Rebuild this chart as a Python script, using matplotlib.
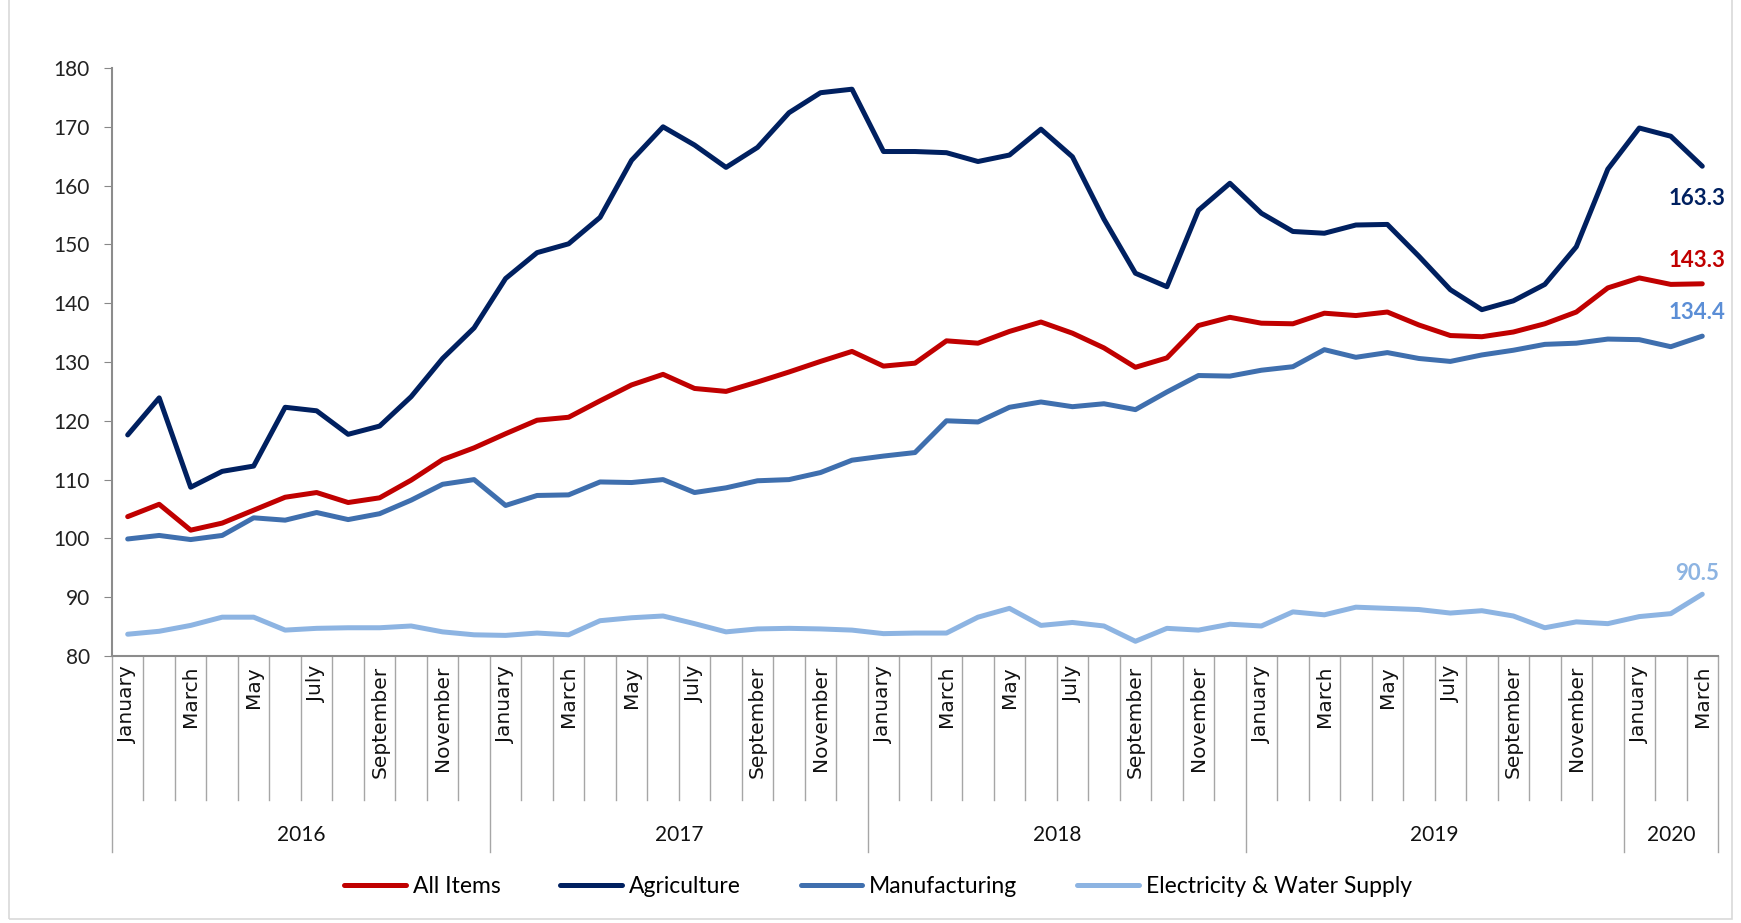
import numpy as np
import matplotlib
matplotlib.use('Agg')
import matplotlib.pyplot as plt
import matplotlib.transforms as mtransforms
from matplotlib.patches import Rectangle

plt.rcParams['font.family'] = ['Lato', 'DejaVu Sans']

years = ['2016', '2017', '2018', '2019', '2020']
month_names = ['January', 'February', 'March', 'April', 'May', 'June', 'July',
               'August', 'September', 'October', 'November', 'December']
months_per_year = [12, 12, 12, 12, 3]

all_items = [103.7, 105.8, 101.4, 102.6, 104.8, 107.0, 107.8, 106.1, 106.9, 109.9, 113.4, 115.4,
             117.8, 120.1, 120.6, 123.4, 126.1, 127.9, 125.5, 125.0, 126.6, 128.3, 130.1, 131.8,
             129.3, 129.8, 133.6, 133.2, 135.2, 136.8, 134.9, 132.4, 129.1, 130.7, 136.2, 137.6,
             136.6, 136.5, 138.3, 137.9, 138.5, 136.3, 134.5, 134.3, 135.1, 136.5, 138.5, 142.6,
             144.3, 143.2, 143.3]
agriculture = [117.6, 123.9, 108.7, 111.4, 112.3, 122.3, 121.7, 117.7, 119.1, 124.1, 130.6, 135.8,
               144.2, 148.6, 150.1, 154.6, 164.3, 170.0, 166.9, 163.1, 166.5, 172.4, 175.8, 176.4,
               165.8, 165.8, 165.6, 164.1, 165.2, 169.6, 164.9, 154.3, 145.1, 142.8, 155.8, 160.4,
               155.3, 152.2, 151.9, 153.3, 153.4, 148.0, 142.3, 138.9, 140.4, 143.2, 149.6, 162.8,
               169.8, 168.4, 163.3]
manufacturing = [99.9, 100.5, 99.8, 100.5, 103.5, 103.1, 104.4, 103.2, 104.2, 106.5, 109.2, 110.0,
                 105.6, 107.3, 107.4, 109.6, 109.5, 110.0, 107.8, 108.6, 109.8, 110.0, 111.2, 113.3,
                 114.0, 114.6, 120.0, 119.8, 122.3, 123.2, 122.4, 122.9, 121.9, 124.9, 127.7, 127.6,
                 128.6, 129.2, 132.1, 130.8, 131.6, 130.6, 130.1, 131.2, 132.0, 133.0, 133.2, 133.9,
                 133.8, 132.6, 134.4]
electricity = [83.7, 84.2, 85.2, 86.6, 86.6, 84.4, 84.7, 84.8, 84.8, 85.1, 84.1, 83.6,
               83.5, 83.9, 83.6, 86.0, 86.5, 86.8, 85.5, 84.1, 84.6, 84.7, 84.6, 84.4,
               83.8, 83.9, 83.9, 86.6, 88.1, 85.2, 85.7, 85.1, 82.5, 84.7, 84.4, 85.4,
               85.1, 87.5, 87.0, 88.3, 88.1, 87.9, 87.3, 87.7, 86.8, 84.8, 85.8, 85.5,
               86.7, 87.2, 90.5]

series = [
    ('All Items', all_items, '#C00000', '#C00000', 17),
    ('Agriculture', agriculture, '#002060', '#002060', -23),
    ('Manufacturing', manufacturing, '#3F6FAE', '#5B8ED6', 17),
    ('Electricity & Water Supply', electricity, '#8DB4E2', '#8DB4E2', 15),
]

fig = plt.figure(figsize=(17.41, 9.23), dpi=100)
ax = fig.add_axes([0.0643, 0.2893, 0.9225, 0.637])

x = np.arange(len(all_items))
for name, vals, col, lcol, dy in series:
    ax.plot(x, vals, color=col, lw=3.6, label=name, solid_capstyle='round')
    ax.annotate(f'{vals[-1]:.1f}', (x[-1], vals[-1]), xytext=(-4, dy),
                textcoords='offset points', ha='center', va='center',
                color=lcol, fontsize=16, fontweight='bold')

ax.set_xlim(-0.5, len(x) - 0.5)
ax.set_ylim(80, 180)
ax.set_yticks(np.arange(80, 181, 10))
ax.tick_params(axis='y', labelsize=15, colors='#222222', length=6, color='#888888', pad=10)
ax.tick_params(axis='x', bottom=False, labelbottom=False)
for s in ['top', 'right']:
    ax.spines[s].set_visible(False)
for s in ['left', 'bottom']:
    ax.spines[s].set_color('#8c8c8c')
    ax.spines[s].set_linewidth(1.5)

# multi-level category axis
trans = mtransforms.blended_transform_factory(ax.transData, ax.transAxes)
month_depth = -0.245
year_depth = -0.333
year_starts = np.cumsum([0] + months_per_year)
labels = []
for n in months_per_year:
    labels += month_names[:n]
for i, lab in enumerate(labels):
    if i % 2 == 0:
        ax.text(i, -0.017, lab, transform=trans, rotation=90, ha='center', va='top',
                fontsize=14.5, color='#111111', fontfamily='DejaVu Sans')
for b in range(len(x) + 1):
    depth = year_depth if b in year_starts else month_depth
    ax.plot([b - 0.5, b - 0.5], [0, depth], transform=trans, color='#a6a6a6',
            lw=1, clip_on=False)
for k, yr in enumerate(years):
    mid = (year_starts[k] + year_starts[k + 1] - 1) / 2
    ax.text(mid, -0.304, yr, transform=trans, ha='center', va='center',
            fontsize=15, color='#111111')

ax.legend(loc='center', bbox_to_anchor=(0.477, -0.392), ncol=4, frameon=False,
          fontsize=16.5, handlelength=2.7, columnspacing=2.6, handletextpad=0.3)

fig.patches.append(Rectangle((0.005, 0.004), 0.99, 1.2, transform=fig.transFigure,
                             fill=False, edgecolor='#d9d9d9', lw=1.2))

fig.savefig('out.png', dpi=100)
